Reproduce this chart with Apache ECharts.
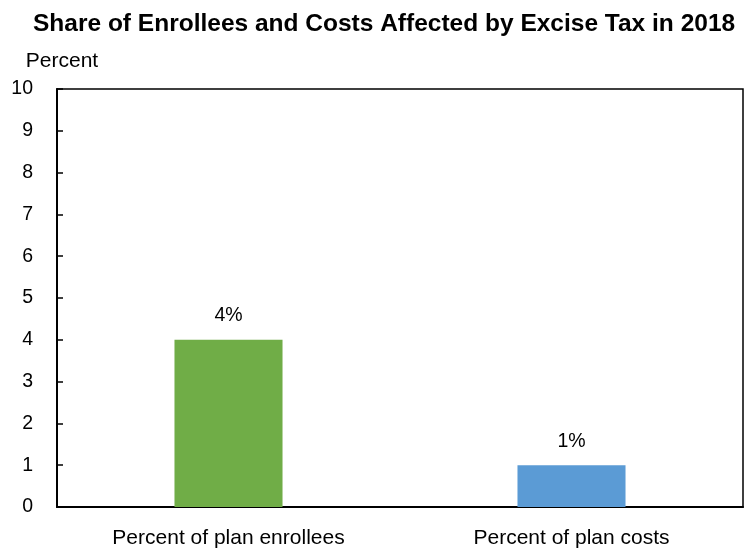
<!DOCTYPE html>
<html>
<head>
<meta charset="utf-8">
<script src="https://cdn.jsdelivr.net/npm/echarts@6/dist/echarts.min.js"></script>
<style>html,body{margin:0;padding:0;background:#fff}#c{width:745px;height:549px}</style>
</head>
<body>
<div id="c"></div>
<script>
const categories = ['Percent of plan enrollees', 'Percent of plan costs'];
const values = [4, 1];
const barColors = ['#70AD47', '#5B9BD5'];
const valueLabels = ['4%', '1%'];
const yTicks = [0, 1, 2, 3, 4, 5, 6, 7, 8, 9, 10];

const chart = echarts.init(document.getElementById('c'), null, {renderer: 'canvas'});
const font = '"Liberation Sans", Arial, sans-serif';
chart.setOption({
  animation: false,
  backgroundColor: '#fff',
  title: {
    text: 'Share of Enrollees and Costs Affected by Excise Tax in 2018',
    left: 28, top: 7,
    textStyle: {fontFamily: font, fontWeight: 'bold', fontSize: 24.5, color: '#000'}
  },
  grid: {left: 57, right: 2, top: 89, bottom: 42, show: true, borderColor: '#000', borderWidth: 1.5, backgroundColor: 'transparent'},
  xAxis: {
    type: 'category', data: categories,
    axisLine: {lineStyle: {color: '#000', width: 2}},
    axisTick: {show: false},
    axisLabel: {fontFamily: font, fontSize: 21, color: '#000', margin: 21}
  },
  yAxis: {
    type: 'value', min: yTicks[0], max: yTicks[yTicks.length - 1], interval: 1,
    name: 'Percent', nameLocation: 'end', nameGap: 17,
    nameTextStyle: {fontFamily: font, fontSize: 21, color: '#000', align: 'center', padding: [0, 0, 0, 10]},
    axisLine: {show: true, lineStyle: {color: '#000', width: 2}},
    axisTick: {show: true, inside: true, length: 6, lineStyle: {color: '#000', width: 1.5}},
    splitLine: {show: false},
    axisLabel: {fontFamily: font, fontSize: 19.5, color: '#000', margin: 24}
  },
  series: [{
    type: 'bar', barWidth: '31.5%',
    data: values.map((v, i) => ({value: v, itemStyle: {color: barColors[i]},
      label: {show: true, position: 'top', distance: 14, formatter: valueLabels[i], fontFamily: font, fontSize: 19.5, color: '#000'}}))
  }]
});
</script>
</body>
</html>
